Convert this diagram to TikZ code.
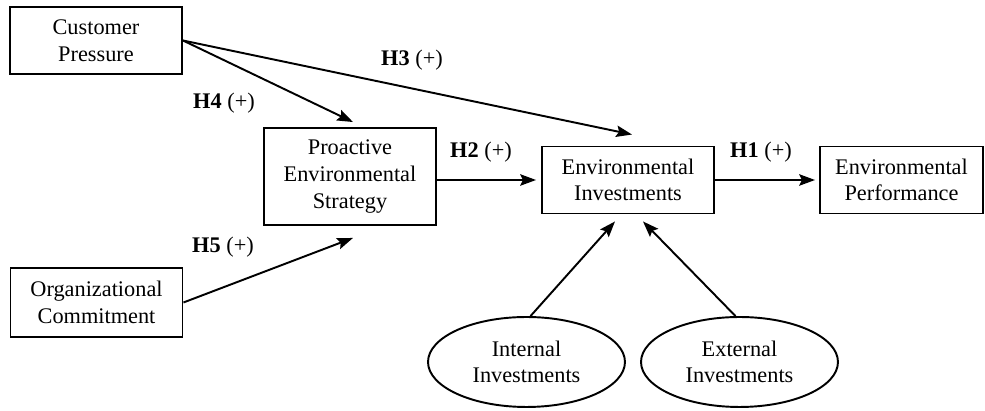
\documentclass[tikz,border=0pt]{standalone}
\usepackage{fontspec}
\setmainfont{Liberation Serif}
\usepackage{tikz}
\usetikzlibrary{arrows.meta,shapes.geometric,positioning}
\tikzset{
construct/.style = {rectangle, draw=black, line width=1.1pt, align=center, inner sep=0pt, minimum width=3.44cm, minimum height=1.34cm},% boxed construct
latent/.style = {ellipse, draw=black, line width=1.1pt, align=center, inner sep=0pt, minimum width=3.94cm, minimum height=1.8cm},% investment type
hyp/.style = {inner sep=0pt},% hypothesis label
link/.style = {line width=1.1pt, -{Stealth[length=9pt,width=6.5pt,inset=1.5pt]}}
}

\begin{document}
\begin{tikzpicture}[x=0.02cm, y=-0.02cm, every node/.style={font=\fontsize{12.7}{15.2}\selectfont}]
	\useasboundingbox (0,0) rectangle (985,411);
	% constructs
	\node [construct] (cp) at (96,40.5) {Customer\\Pressure};
	\node [construct, minimum height=1.94cm] (pes) at (350,176.5) {Proactive\\Environmental\\Strategy};
	\node [construct] (ei) at (628,180) {Environmental\\Investments};
	\node [construct, minimum width=3.26cm] (ep) at (901.5,180) {Environmental\\Performance};
	\node [construct, minimum height=1.38cm] (oc) at (96.5,302.5) {Organizational\\Commitment};
	\node [latent] (ii) at (526.5,362) {Internal\\Investments};
	\node [latent] (xi) at (739.5,362) {External\\Investments};
	% hypotheses
	\draw [link] (cp.east) -- ([shift={(3,-5)}]pes.north);
	\draw [link] (cp.east) -- ([shift={(4,-11)}]ei.north);
	\draw [link] (oc.east) -- ([shift={(3,12)}]pes.south);
	\draw [link, shorten >=0.1cm] (pes.east |- ei.west) -- (ei.west);
	\draw [link, shorten >=0.08cm] (ei.east) -- (ep.west);
	\draw [link] (ii.85) -- ([shift={(-13,7)}]ei.south);
	\draw [link] (xi.95) -- ([shift={(15,7)}]ei.south);
	% labels
	\node [hyp] (h4) at (224,103) {\textbf{H4} (+)};
	\node [hyp] (h3) at (412,60) {\textbf{H3} (+)};
	\node [hyp] (h2) at (481,152) {\textbf{H2} (+)};
	\node [hyp] (h1) at (761,152) {\textbf{H1} (+)};
	\node [hyp] (h5) at (223,247) {\textbf{H5} (+)};
\end{tikzpicture}
\end{document}
